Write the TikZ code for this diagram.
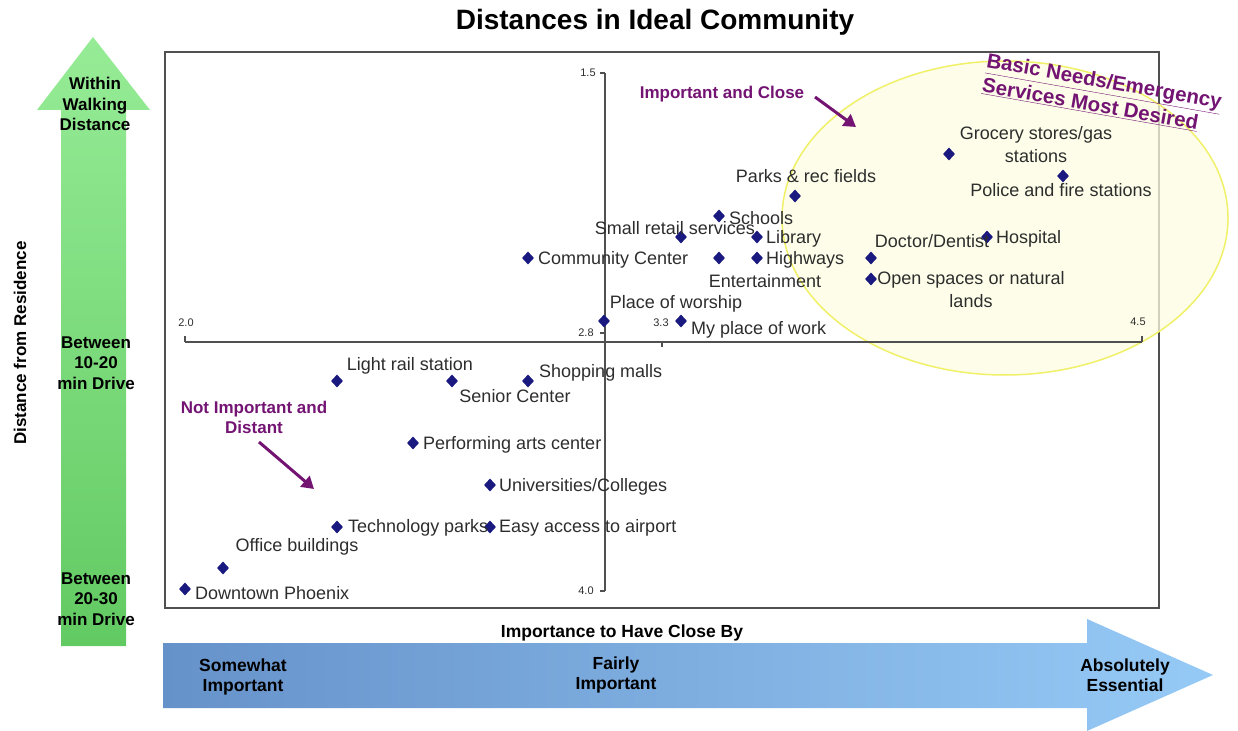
\documentclass[tikz,border=0pt]{standalone}
\usepackage{fontspec}
\setmainfont{Liberation Sans}
\usetikzlibrary{shapes.geometric,arrows.meta}
\definecolor{navypt}{RGB}{25,25,128}
\definecolor{purp}{RGB}{115,20,115}
\definecolor{lbl}{RGB}{45,45,45}
\definecolor{axisc}{RGB}{80,80,80}
\definecolor{gtop}{RGB}{150,236,150}
\definecolor{gbot}{RGB}{98,202,98}
\definecolor{bleft}{RGB}{102,146,202}
\definecolor{bright}{RGB}{150,202,246}
\definecolor{ellfill}{RGB}{253,253,226}
\definecolor{ellline}{RGB}{240,240,105}
\tikzset{
  datapt/.style={diamond, fill=navypt, inner sep=0pt, minimum width=12pt, minimum height=13pt},
  lab/.style={font=\fontsize{18}{23}\selectfont, text=lbl, inner sep=0pt},
  purplab/.style={font=\bfseries\fontsize{17}{20}\selectfont, text=purp, align=center, inner sep=0pt},
  blk/.style={font=\bfseries\fontsize{17}{20.5}\selectfont, align=center, inner sep=0pt},
  tickl/.style={font=\fontsize{11}{12}\selectfont, text=lbl, inner sep=0pt},
  parrow/.style={purp, line width=3pt, -{Triangle[length=12pt,width=14pt]}},
  axisline/.style={axisc, line width=1.3pt},
}
\begin{document}
\begin{tikzpicture}[x=1pt,y=-1pt]
\useasboundingbox (0,0) rectangle (1238,730);
% title
\node[font=\bfseries\fontsize{28}{31}\selectfont] (title) at (655,22) {Distances in Ideal Community};
% left green arrow
\shade[top color=gtop, bottom color=gbot] (61,646) -- (61,110) -- (37,110) -- (93,37) -- (150,110) -- (126,110) -- (126,646) -- cycle;
\node[blk] (walk) at (95,104) {Within\\Walking\\Distance};
\node[blk] (d1020) at (96,363) {Between\\10-20\\min Drive};
\node[blk] (d2030) at (96,599) {Between\\20-30\\min Drive};
\node[font=\bfseries\fontsize{17}{20}\selectfont, rotate=90] (ylab) at (20,343) {Distance from Residence};
% bottom blue arrow
\shade[left color=bleft, right color=bright] (163,643) -- (1087,643) -- (1087,619) -- (1213,675) -- (1087,731) -- (1087,708) -- (163,708) -- cycle;
\node[font=\bfseries\fontsize{17.5}{20}\selectfont] (xlab) at (622,633) {Importance to Have Close By};
\node[blk, font=\bfseries\fontsize{17.5}{20.5}\selectfont] (some) at (243,677) {Somewhat\\Important};
\node[blk, font=\bfseries\fontsize{17.5}{20.5}\selectfont] (fair) at (616,675) {Fairly\\Important};
\node[blk, font=\bfseries\fontsize{17.5}{20.5}\selectfont] (abs) at (1125,675) {Absolutely\\Essential};
% frame
\draw[axisc, line width=1.5pt] (165,52) rectangle (1159,608);
% ellipse
\draw[ellline, fill=ellfill, fill opacity=0.75, line width=1.5pt] (1005,218) ellipse [x radius=223, y radius=157];
% axes
\draw[axisline] (185,342) -- (1142,342);
\draw[axisline] (185,336) -- (185,342);
\draw[axisline] (1142,336) -- (1142,342);
\draw[axisline] (662,342) -- (662,347);
\draw[axisline] (605,73) -- (605,591);
\draw[axisline] (600,73) -- (605,73);
\draw[axisline] (600,333) -- (605,333);
\draw[axisline] (600,591) -- (605,591);
\node[tickl] (t15) at (588,73) {1.5};
\node[tickl] (t28) at (586,333) {2.8};
\node[tickl] (t40) at (586,591) {4.0};
\node[tickl] (t20) at (186,323) {2.0};
\node[tickl] (t33) at (661,323) {3.3};
\node[tickl] (t45) at (1138,322) {4.5};
% data points
\node[datapt] (p1) at (949,154) {};
\node[datapt] (p2) at (1063,176) {};
\node[datapt] (p3) at (795,196) {};
\node[datapt] (p4) at (719,216) {};
\node[datapt] (p5) at (681,237) {};
\node[datapt] (p6) at (757,237) {};
\node[datapt] (p7) at (528,258) {};
\node[datapt] (p8) at (719,258) {};
\node[datapt] (p9) at (757,258) {};
\node[datapt] (p10) at (871,258) {};
\node[datapt] (p11) at (987,237) {};
\node[datapt] (p12) at (871,279) {};
\node[datapt] (p13) at (604,321) {};
\node[datapt] (p14) at (681,321) {};
\node[datapt] (p15) at (337,381) {};
\node[datapt] (p16) at (452,381) {};
\node[datapt] (p17) at (528,381) {};
\node[datapt] (p18) at (413,443) {};
\node[datapt] (p19) at (490,485) {};
\node[datapt] (p20) at (337,527) {};
\node[datapt] (p21) at (490,527) {};
\node[datapt] (p22) at (223,568) {};
\node[datapt] (p23) at (185,589) {};
% labels
\node[lab, align=center] (l1) at (1036,145) {Grocery stores/gas\\stations};
\node[lab] (l2) at (1061,190) {Police and fire stations};
\node[lab] (l3) at (806,176) {Parks \& rec fields};
\node[lab, anchor=west] (l4) at (729,218) {Schools};
\node[lab] (l5) at (675,228) {Small retail services};
\node[lab, anchor=west] (l6) at (766,239) {Library};
\node[lab, anchor=west] (l7) at (538,260) {Community Center};
\node[lab] (l8) at (765,281) {Entertainment};
\node[lab, anchor=west] (l9) at (766,260) {Highways};
\node[lab] (l10) at (932,241) {Doctor/Dentist};
\node[lab, anchor=west] (l11) at (996,239) {Hospital};
\node[lab, align=center] (l12) at (971,290) {Open spaces or natural\\lands};
\node[lab] (l13) at (676,304) {Place of worship};
\node[lab, anchor=west] (l14) at (691,330) {My place of work};
\node[lab] (l15) at (410,366) {Light rail station};
\node[lab] (l16) at (515,396) {Senior Center};
\node[lab, anchor=west] (l17) at (539,373) {Shopping malls};
\node[lab, anchor=west] (l18) at (423,445) {Performing arts center};
\node[lab, anchor=west] (l19) at (499,487) {Universities/Colleges};
\node[lab, anchor=west] (l20) at (348,528) {Technology parks};
\node[lab, anchor=west] (l21) at (499,528) {Easy access to airport};
\node[lab] (l22) at (297,547) {Office buildings};
\node[lab, anchor=west] (l23) at (195,593) {Downtown Phoenix};
% purple annotations
\node[purplab] (ic) at (722,94) {Important and Close};
\coordinate (ica) at (815,97);
\coordinate (icb) at (856,127);
\draw[parrow] (ica) -- (icb);
\node[purplab] (nid) at (254,417) {Not Important and\\Distant};
\coordinate (nida) at (259,442);
\coordinate (nidb) at (314,489);
\draw[parrow] (nida) -- (nidb);
\node[purplab, font=\bfseries\fontsize{20.5}{25}\selectfont, align=left, rotate=-10] (basic) at (1102,94) {\underline{Basic Needs/Emergency}\\\underline{Services Most Desired}};
\end{tikzpicture}
\end{document}
